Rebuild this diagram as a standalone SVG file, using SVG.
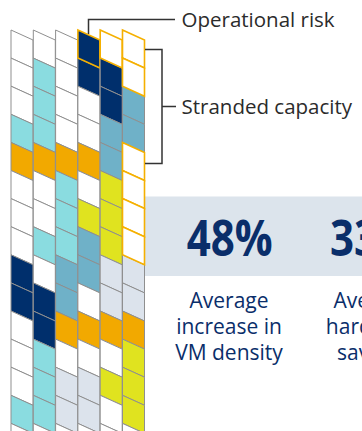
<svg xmlns="http://www.w3.org/2000/svg" xmlns:xlink="http://www.w3.org/1999/xlink" width="362" height="431" viewBox="0 0 362 431">
<style>
.w{fill:#ffffff}.t{fill:#8ADCE0}.s{fill:#6FB1C8}.n{fill:#002F6C}.o{fill:#F2A900}.y{fill:#E0E31F}.g{fill:#DCE3EC}
use{stroke:#8f8f8f;stroke-width:1}
use.hl{stroke:#F5B000;stroke-width:1.6}
.lbl{font-family:"Open Sans","Noto Sans",sans-serif;font-size:20.5px;fill:#2b2b2b}
.big{font-family:"Open Sans","Noto Sans",sans-serif;font-size:50px;font-weight:700;fill:#0A2E6A}
.cap{font-family:"Open Sans","Noto Sans",sans-serif;font-size:21px;fill:#0A2E6A}
.con{fill:none;stroke:#333333;stroke-width:1.5}
</style>
<defs>
<path id="cell" d="M0,0 L22,10 L22,38.1 L0,28.1 Z"/>
</defs>
<rect x="145" y="196.5" width="217" height="79.5" fill="#DCE4EC"/>
<g id="grid">
<g id="col1" transform="translate(11,0)">
<use href="#cell" y="30" class="w"/><use href="#cell" y="58.1" class="w"/><use href="#cell" y="86.2" class="w"/><use href="#cell" y="114.3" class="t"/><use href="#cell" y="142.4" class="o"/><use href="#cell" y="170.5" class="w"/><use href="#cell" y="198.6" class="w"/><use href="#cell" y="226.7" class="w"/><use href="#cell" y="254.8" class="n"/><use href="#cell" y="282.9" class="n"/><use href="#cell" y="311" class="w"/><use href="#cell" y="339.1" class="w"/><use href="#cell" y="367.2" class="w"/><use href="#cell" y="395.3" class="t"/><use href="#cell" y="423.4" class="w"/>
</g>
<g id="col2" transform="translate(33.3,0)">
<use href="#cell" y="30" class="w"/><use href="#cell" y="58.1" class="t"/><use href="#cell" y="86.2" class="t"/><use href="#cell" y="114.3" class="t"/><use href="#cell" y="142.4" class="o"/><use href="#cell" y="170.5" class="w"/><use href="#cell" y="198.6" class="w"/><use href="#cell" y="226.7" class="t"/><use href="#cell" y="254.8" class="w"/><use href="#cell" y="282.9" class="n"/><use href="#cell" y="311" class="n"/><use href="#cell" y="339.1" class="t"/><use href="#cell" y="367.2" class="t"/><use href="#cell" y="395.3" class="t"/><use href="#cell" y="423.4" class="w"/>
</g>
<g id="col3" transform="translate(55.6,0)">
<use href="#cell" y="30" class="w"/><use href="#cell" y="58.1" class="w"/><use href="#cell" y="86.2" class="w"/><use href="#cell" y="114.3" class="w"/><use href="#cell" y="142.4" class="o"/><use href="#cell" y="170.5" class="t"/><use href="#cell" y="198.6" class="t"/><use href="#cell" y="226.7" class="t"/><use href="#cell" y="254.8" class="s"/><use href="#cell" y="282.9" class="s"/><use href="#cell" y="311" class="o"/><use href="#cell" y="339.1" class="w"/><use href="#cell" y="367.2" class="g"/><use href="#cell" y="395.3" class="g"/><use href="#cell" y="423.4" class="w"/>
</g>
<g id="col4" transform="translate(77.9,0)">
<use href="#cell" y="58.1" class="n"/><use href="#cell" y="86.2" class="w"/><use href="#cell" y="114.3" class="w"/><use href="#cell" y="142.4" class="o"/><use href="#cell" y="170.5" class="w"/><use href="#cell" y="198.6" class="y"/><use href="#cell" y="226.7" class="s"/><use href="#cell" y="254.8" class="s"/><use href="#cell" y="282.9" class="w"/><use href="#cell" y="311" class="o"/><use href="#cell" y="339.1" class="w"/><use href="#cell" y="367.2" class="g"/><use href="#cell" y="395.3" class="g"/><use href="#cell" y="423.4" class="w"/>
<use href="#cell" y="30" class="n hl"/>
</g>
<g id="col5" transform="translate(100.2,0)">
<use href="#cell" y="58.1" class="n"/><use href="#cell" y="86.2" class="n"/><use href="#cell" y="114.3" class="s"/><use href="#cell" y="142.4" class="s"/><use href="#cell" y="170.5" class="y"/><use href="#cell" y="198.6" class="y"/><use href="#cell" y="226.7" class="y"/><use href="#cell" y="254.8" class="g"/><use href="#cell" y="282.9" class="g"/><use href="#cell" y="311" class="o"/><use href="#cell" y="339.1" class="w"/><use href="#cell" y="367.2" class="y"/><use href="#cell" y="395.3" class="w"/><use href="#cell" y="423.4" class="w"/>
<use href="#cell" y="30" class="w hl"/>
</g>
<g id="col6" transform="translate(122.5,0)">
<use href="#cell" y="86.2" class="s"/><use href="#cell" y="114.3" class="s"/><use href="#cell" y="254.8" class="g"/><use href="#cell" y="282.9" class="g"/><use href="#cell" y="311" class="o"/><use href="#cell" y="339.1" class="y"/><use href="#cell" y="367.2" class="y"/><use href="#cell" y="395.3" class="y"/><use href="#cell" y="423.4" class="w"/>
<use href="#cell" y="30" class="w hl"/><use href="#cell" y="58.1" class="w hl"/><use href="#cell" y="142.4" class="w hl"/><use href="#cell" y="170.5" class="w hl"/><use href="#cell" y="198.6" class="w hl"/><use href="#cell" y="226.7" class="w hl"/>
</g>
</g>
<g id="connectors">
<path class="con" d="M88.5,34 V19.5 H175"/>
<path class="con" d="M145,49.5 H162 V163.5 H145 M162,106.5 H176"/>
</g>
<g id="labels">
<text class="lbl" x="181.5" y="27">Operational risk</text>
<text class="lbl" x="181.5" y="114">Stranded capacity</text>
</g>
<g id="stat1">
<text class="big" x="229.7" y="256" text-anchor="middle" textLength="86" lengthAdjust="spacingAndGlyphs">48%</text>
<text class="cap" text-anchor="middle"><tspan x="229" y="307.5">Average</tspan><tspan x="229" y="333.5">increase in</tspan><tspan x="229" y="359.5">VM density</tspan></text>
</g>
<g id="stat2">
<text class="big" x="373" y="256" text-anchor="middle" textLength="86" lengthAdjust="spacingAndGlyphs">33%</text>
<text class="cap" text-anchor="middle"><tspan x="373" y="307.5">Average</tspan><tspan x="373" y="333.5">hardware</tspan><tspan x="373" y="359.5">savings</tspan></text>
</g>
</svg>
